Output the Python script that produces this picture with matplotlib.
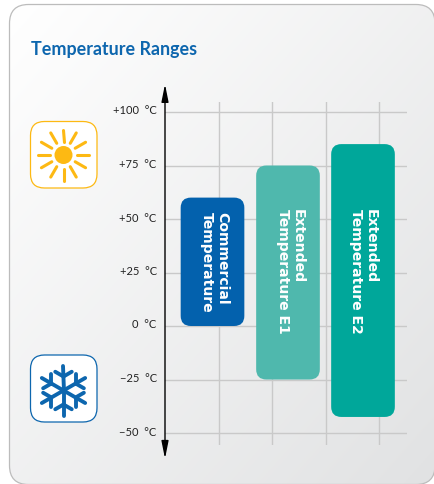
import numpy as np
import matplotlib
matplotlib.use('Agg')
import matplotlib.pyplot as plt
from matplotlib.patches import FancyBboxPatch, Circle
from matplotlib.transforms import ScaledTranslation

W = 434
H = 484

temps = [100, 75, 50, 25, 0, -25, -50]
temp_labels = ['+100  °C', '+75  °C', '+50  °C', '+25  °C', '0  °C', '−25  °C', '−50  °C']
range_names = ['Commercial\nTemperature', 'Extended\nTemperature E1', 'Extended\nTemperature E2']
range_low = [0, -25, -42.5]
range_high = [60, 75, 85]
range_colors = ['#0361ad', '#4fb8ad', '#00a79a']
grid_cols = [1, 2, 3, 4]

BLUE = '#0d66ae'
YELLOW = '#fdb913'

plt.rcParams['font.family'] = ['Lato', 'DejaVu Sans']

fig = plt.figure(figsize=(W / 100, H / 100), dpi=100)
fig.patch.set_facecolor('white')

# background layer in pixel coordinates
bg = fig.add_axes([0, 0, 1, 1])
bg.set_xlim(0, W)
bg.set_ylim(H, 0)
bg.axis('off')


def rbox(x0, y0, x1, y1, r, **kw):
    p = FancyBboxPatch((x0, y0), x1 - x0, y1 - y0,
                       boxstyle='round,pad=0,rounding_size=%g' % r, **kw)
    bg.add_patch(p)
    return p


card = rbox(9.5, 4.5, 435, 484.5, 19, fc='none', ec='#bcbcbc', lw=0.9, zorder=2)
gx, gy = np.meshgrid(np.linspace(0, 1, 200), np.linspace(0, 1, 200))
shade = (gx + gy) / 2
top = np.array([1.0, 1.0, 1.0])
low = np.array([0.882, 0.886, 0.89])
rgb = top + (low - top) * shade[..., None]
im = bg.imshow(rgb, extent=(9.5, 435, 484.5, 4.5), aspect='auto', zorder=1)
im.set_clip_path(card)
bg.set_xlim(0, W)
bg.set_ylim(H, 0)

bg.text(31, 49, 'Temperature Ranges', color=BLUE, fontsize=12.9, fontweight='bold',
        va='center', ha='left')

# sun icon
rbox(30.5, 121.5, 97, 188, 14, fc='white', ec=YELLOW, lw=0.9, zorder=3)
sx, sy = 63.5, 155
bg.add_patch(Circle((sx, sy), 9, fc=YELLOW, ec='none', zorder=4))
for a in np.radians(np.arange(0, 360, 30)):
    bg.plot([sx + 13.5 * np.cos(a), sx + 25.5 * np.cos(a)],
            [sy + 13.5 * np.sin(a), sy + 25.5 * np.sin(a)],
            color=YELLOW, lw=2.2, solid_capstyle='round', zorder=4)

# snowflake icon
rbox(30.5, 355, 97, 422, 14, fc='white', ec=BLUE, lw=0.9, zorder=3)
fx, fy = 63.5, 390.5
for a in np.radians(np.arange(30, 390, 60)):
    ux, uy = np.cos(a), np.sin(a)
    bg.plot([fx, fx + 25 * ux], [fy, fy + 25 * uy], color=BLUE, lw=2.8,
            solid_capstyle='round', zorder=4)
    for s in (-1, 1):
        b = a + s * np.radians(60)
        bx, by = fx + 14 * ux, fy + 14 * uy
        bg.plot([bx, bx + 9.5 * np.cos(b)], [by, by + 9.5 * np.sin(b)], color=BLUE,
                lw=2.8, solid_capstyle='round', zorder=4)

# chart layer: 25 degrees = 53.5 px, one column = 53.5 px
ax = fig.add_axes([165 / W, 1 - 445 / H, (407 - 165) / W, (445 - 102) / H])
ax.patch.set_alpha(0)
ax.set_xlim(0, (407 - 165) / 53.5)
ax.set_ylim((326 - 445) / 2.14, (326 - 102) / 2.14)
for s in ax.spines.values():
    s.set_visible(False)
ax.set_xticks(grid_cols)
ax.set_xticklabels([])
ax.set_yticks(temps)
ax.set_yticklabels(temp_labels, fontsize=8.0, color='#222222')
ax.tick_params(length=0, pad=6)
lift = ScaledTranslation(0, 2 / 100, fig.dpi_scale_trans)
for t in ax.get_yticklabels():
    t.set_transform(t.get_transform() + lift)
ax.grid(True, color='#c9c9c9', lw=1.0)
ax.set_axisbelow(True)

centers = [0.888, 2.299, 3.701]
text_x = [0.925, 2.35, 3.71]
text_top = [53.3, 54.7, 54.7]
width = 1.19
for c, tx, tt, lo, hi, col, name in zip(centers, text_x, text_top, range_low, range_high, range_colors, range_names):
    ax.add_patch(FancyBboxPatch((c - width / 2, lo), width, hi - lo,
                                boxstyle='round,pad=0,rounding_size=0.19',
                                mutation_aspect=25, fc=col, ec='none', zorder=3))
    ax.text(tx, tt, name, color='white', fontsize=10.1, fontweight='bold', family='DejaVu Sans',
            rotation=270, ha='center', va='top', multialignment='left', linespacing=1.05, zorder=4)

ax.annotate('', xy=(0, 113), xytext=(0, -62), annotation_clip=False, zorder=5,
            arrowprops=dict(arrowstyle='<|-|>,head_length=0.75,head_width=0.15', color='black',
                            lw=1.0, shrinkA=0, shrinkB=0, mutation_scale=14))

fig.savefig('out.png', dpi=100)
